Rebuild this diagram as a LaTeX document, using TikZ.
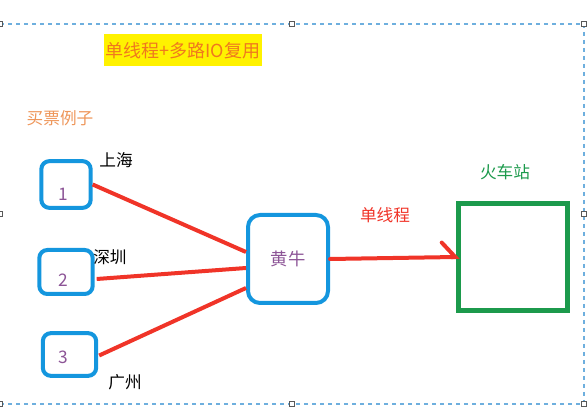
\documentclass[tikz,border=0pt]{standalone}
\usepackage{fontspec}
\setmainfont{Noto Sans CJK SC}
\usetikzlibrary{positioning,calc,arrows.meta}
\definecolor{boxblue}{RGB}{20,150,222}
\definecolor{linered}{RGB}{240,52,40}
\definecolor{stgreen}{RGB}{28,154,76}
\definecolor{numpurple}{RGB}{140,84,150}
\definecolor{titleorange}{RGB}{240,120,30}
\definecolor{noteorange}{RGB}{238,150,90}
\definecolor{selblue}{RGB}{110,175,222}
\definecolor{titleyellow}{RGB}{255,242,0}
\tikzset{
  citybox/.style={draw=boxblue,line width=3pt,rounded corners=6pt,inner sep=0pt},
  numtxt/.style={text=numpurple,font=\fontsize{13}{15}\selectfont},
  cjktxt/.style={font=\fontsize{12.5}{15}\selectfont,inner sep=0pt},
  redline/.style={draw=linered,line width=3pt},
  handle/.style={draw=gray!70!black,fill=white,line width=0.5pt,minimum size=3.5pt,inner sep=0pt}
}
\begin{document}
\begin{tikzpicture}[x=0.75pt,y=-0.75pt]
                \useasboundingbox (0,0) rectangle (587,410);
                %%% Selection frame with handles
                \draw[selblue,dashed,line width=0.9pt] (0,24) -- (584,24) -- (584,404) -- (0,404);
                \foreach \hx/\hy in {0/24,292/24,584/24,584/214,584/404,292/404,0/404,0/214}
                    \node[handle] at (\hx,\hy) {};
                %%% Title and note
                \node[fill=titleyellow,text=titleorange,font=\fontsize{13.5}{16}\selectfont,inner xsep=1pt,inner ysep=2pt,minimum height=24pt] (title) at (183,50.5) {单线程+多路IO复用};
                \node[cjktxt,text=noteorange] (note) at (60,118) {买票例子};
                %%% Ticket boxes
                \node[citybox,minimum width=37pt,minimum height=35pt,label={[numtxt,xshift=-2pt,yshift=-7pt]center:1}] (b1) at (66,184.5) {};
                \node[citybox,minimum width=40pt,minimum height=33pt,label={[numtxt,xshift=-2pt,yshift=-6pt]center:2}] (b2) at (66,272) {};
                \node[citybox,minimum width=40pt,minimum height=32pt,label={[numtxt,xshift=-5pt,yshift=-2pt]center:3}] (b3) at (69.5,354.5) {};
                \node[cjktxt] (sh) at (116,160) {上海};
                \node[cjktxt] (sz) at (110,257) {深圳};
                \node[cjktxt] (gz) at (125,382) {广州};
                %%% Scalper
                \node[citybox,rounded corners=9pt,minimum width=60pt,minimum height=66pt,text=numpurple,font=\fontsize{13}{15}\selectfont] (hn) at (288,259) {黄牛};
                %%% Station
                \node[draw=stgreen,line width=3.8pt,minimum width=82pt,minimum height=80pt] (st) at (513,257) {};
                \node[cjktxt,text=stgreen] (stl) at (505,172) {火车站};
                \node[cjktxt,text=linered] (sl) at (385,215) {单线程};
                %%% Red lines
                \draw[redline] (b1.east) -- ($(hn.west)+(0,-7)$);
                \draw[redline] ($(b2.east)+(2,7)$) -- ($(hn.west)+(0,9)$);
                \draw[redline] ($(b3.east)+(1,1)$) -- ($(hn.west)+(0,29)$);
                \draw[redline,line cap=round,shorten >=-3pt,-{Straight Barb[harpoon,length=10pt,width=22pt,line cap=round]}] (hn.east) -- (st.west);
\end{tikzpicture}
\end{document}
